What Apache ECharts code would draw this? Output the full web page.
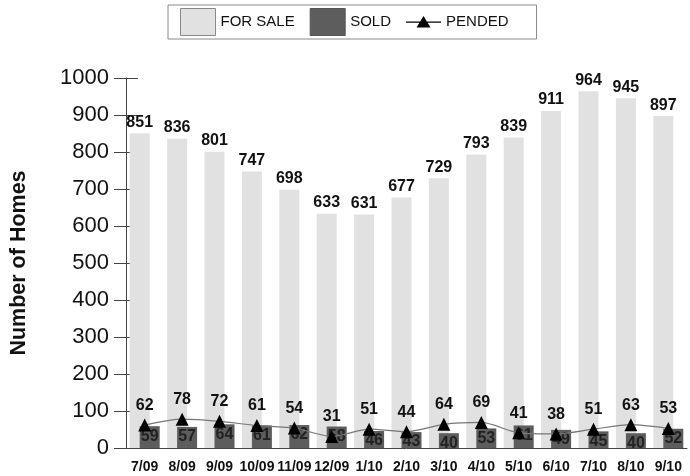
<!DOCTYPE html>
<html>
<head>
<meta charset="utf-8">
<script src="https://cdn.jsdelivr.net/npm/echarts@6/dist/echarts.min.js"></script>
<style>
  html, body { margin: 0; padding: 0; background: #fff; }
  #chart { width: 690px; height: 476px; }
</style>
</head>
<body>
<div id="chart"></div>
<script>
var months = ['7/09', '8/09', '9/09', '10/09', '11/09', '12/09', '1/10', '2/10', '3/10', '4/10', '5/10', '6/10', '7/10', '8/10', '9/10'];
var forSale = [851, 836, 801, 747, 698, 633, 631, 677, 729, 793, 839, 911, 964, 945, 897];
var sold = [59, 57, 64, 61, 62, 58, 46, 43, 40, 53, 61, 49, 45, 40, 52];
var pended = [62, 78, 72, 61, 54, 31, 51, 44, 64, 69, 41, 38, 51, 63, 53];

var myChart = echarts.init(document.getElementById('chart'));
var font = 'Liberation Sans, Arial, sans-serif';

// legend icon for the line: thin line with a triangle, padded to the full icon box
var pendedIcon = 'path://M0,0h0.01v0.01h-0.01Z M35,27h-0.01v-0.01h0.01Z ' +
    'M0,13H35V14.2H0Z M10.5,19L17.5,7.5L24.5,19Z';

var option = {
    animation: false,
    textStyle: { fontFamily: font },
    legend: {
        left: 168,
        top: 5,
        padding: [3, 28, 3, 12],
        itemWidth: 35,
        itemHeight: 27,
        itemGap: 15,
        borderColor: '#8a8a8a',
        borderWidth: 1,
        formatter: function (name) {
            return name === 'SOLD' ? '{s|SOLD}' : name;
        },
        data: [
            { name: 'FOR SALE', icon: 'rect', itemStyle: { borderColor: '#888', borderWidth: 1 } },
            { name: 'SOLD', icon: 'rect', itemStyle: { borderColor: '#555', borderWidth: 1 } },
            { name: 'PENDED', icon: pendedIcon, itemStyle: { color: '#000' } }
        ],
        textStyle: {
            fontSize: 15, color: '#111', fontFamily: font,
            rich: { s: { width: 75, fontSize: 15, color: '#111', fontFamily: font } }
        }
    },
    grid: {
        left: 117,
        right: 3,
        top: 78,
        bottom: 28
    },
    xAxis: [
        {
            type: 'category',
            data: months,
            axisLine: { lineStyle: { color: '#444' } },
            axisTick: { length: 11, lineStyle: { color: '#444' } },
            axisLabel: { fontSize: 14, fontWeight: 'bold', color: '#111', margin: 12, interval: 0 }
        },
        {
            type: 'category',
            data: months,
            position: 'bottom',
            axisLine: { show: false },
            axisTick: { inside: true, length: 11, lineStyle: { color: '#444' } },
            axisLabel: { show: false }
        }
    ],
    yAxis: [
        {
            type: 'value',
            min: 0,
            max: 1000,
            interval: 100,
            name: 'Number of Homes',
            nameLocation: 'middle',
            nameGap: 96,
            nameTextStyle: { fontSize: 21.5, fontWeight: 'bold', color: '#111' },
            axisLine: { show: true, lineStyle: { color: '#444' } },
            axisTick: { show: true, length: 12, lineStyle: { color: '#444' } },
            axisLabel: {
                fontSize: 22, color: '#111', margin: 17,
                formatter: function (v) { return String(v); }
            },
            splitLine: { show: false }
        },
        {
            type: 'value',
            min: 0,
            max: 1000,
            interval: 100,
            position: 'left',
            axisLine: { show: false },
            axisTick: { show: true, inside: true, length: 12, lineStyle: { color: '#444' } },
            axisLabel: { show: false },
            splitLine: { show: false }
        }
    ],
    series: [
        {
            name: 'FOR SALE',
            type: 'bar',
            data: forSale,
            barWidth: 20,
            barGap: '-50%',
            itemStyle: { color: '#e1e1e1' },
            label: {
                show: true,
                position: 'top',
                distance: 3,
                fontSize: 16,
                fontWeight: 'bold',
                color: '#111'
            }
        },
        {
            name: 'SOLD',
            type: 'bar',
            data: sold,
            barWidth: 20,
            barGap: '-50%',
            itemStyle: { color: '#5d5d5d' },
            label: {
                show: true,
                position: 'insideTop',
                distance: 2,
                fontSize: 16,
                fontWeight: 'bold',
                color: '#222'
            }
        },
        {
            name: 'PENDED',
            type: 'line',
            data: pended,
            smooth: 0.25,
            symbol: 'triangle',
            symbolSize: 13,
            z: 5,
            lineStyle: { color: '#777', width: 1.2 },
            itemStyle: { color: '#000' },
            label: {
                show: true,
                position: 'top',
                distance: 5,
                fontSize: 16,
                fontWeight: 'bold',
                color: '#111'
            }
        }
    ]
};

myChart.setOption(option);
</script>
</body>
</html>
